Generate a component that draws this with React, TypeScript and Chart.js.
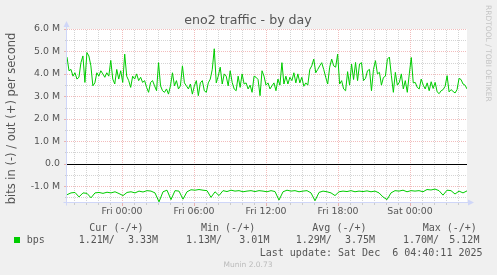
import React, { useEffect, useRef } from 'react';
import { Chart, registerables } from 'chart.js';

Chart.register(...registerables);

// bits per second, out (+), in millions
const outValues = [
  4.75, 4.14, 4.2, 3.9, 4.05, 3.77, 3.85, 4.5, 4.8, 3.62, 4.95, 4.8, 4.36, 3.47, 3.6, 4.05, 3.9, 4.14, 4.0, 3.85,
  4.05, 3.9, 4.6, 3.77, 3.55, 4.2, 3.77, 4.14, 3.62, 4.88, 3.9, 3.7, 3.4, 3.9, 3.77, 4.0, 3.7, 3.85, 3.62, 3.7,
  3.4, 3.18, 3.62, 3.7, 3.47, 3.25, 4.5, 3.47, 3.25, 3.18, 3.33, 3.1, 3.47, 4.05, 3.47, 3.7, 3.33, 3.47, 4.36, 3.6,
  3.47, 3.33, 3.55, 3.1, 3.47, 3.7, 3.03, 3.6,
  3.7, 3.25, 3.18, 3.6, 3.77, 4.2, 5.12, 3.6, 3.9, 4.3, 3.55, 4.0, 3.9, 3.47, 4.14, 3.62, 3.33, 3.25, 3.9, 3.4,
  4.0, 3.55, 3.6, 3.33, 3.5, 3.18, 3.9, 3.85, 3.75, 3.03, 4.14, 3.9, 3.5, 3.6, 3.33, 3.47, 3.6, 3.25, 3.77, 3.5,
  4.5, 3.55, 3.9, 3.55, 3.85, 3.7, 4.05, 3.6, 4.0, 3.6, 3.85, 3.45, 3.6, 3.5, 4.2, 4.36, 4.66, 4.05, 4.2, 4.36,
  4.5, 4.2, 3.85, 3.55, 4.3, 4.66, 4.36,
  4.3, 4.88, 3.55, 3.7, 3.33, 3.25, 4.1, 3.5, 4.44, 3.75, 4.51, 3.7, 4.44, 4.5, 3.7, 3.8, 4.14, 4.2, 3.25, 4.2,
  4.59, 4.0, 4.07, 3.5, 3.84, 3.9, 4.66, 4.75, 3.92, 3.18, 4.07, 3.5, 3.62, 4.0, 3.33, 3.7, 3.18, 4.0, 4.73, 3.6,
  3.62, 3.4, 3.33, 3.77, 3.5, 3.33, 3.6, 3.25, 3.65, 3.35, 3.62, 3.2, 3.12, 3.25, 3.3, 3.45, 3.92, 3.2, 3.3, 3.22,
  3.15, 3.3, 3.8, 3.75, 3.55, 3.5, 3.33,
];

// bits per second, in (-), in millions
const inValues = [
  -1.38, -1.3, -1.28, -1.48, -1.3, -1.32, -1.52, -1.3, -1.28, -1.32, -1.27, -1.3, -1.25, -1.33, -1.42, -1.28, -1.25, -1.3, -1.22, -1.26,
  -1.2, -1.22, -1.3, -1.7, -1.25, -1.18, -1.6, -1.2, -1.22, -1.58, -1.25, -1.16, -1.18, -1.15, -1.18, -1.2, -1.5, -1.25, -1.42, -1.2,
  -1.24, -1.18, -1.22, -1.2, -1.25, -1.22, -1.2, -1.24, -1.2, -1.22, -1.25, -1.2, -1.24, -1.62, -1.25, -1.18, -1.22, -1.2, -1.25, -1.22,
  -1.2, -1.3, -1.65, -1.28, -1.22, -1.25, -1.3, -1.42, -1.25, -1.22, -1.24, -1.2, -1.25, -1.22, -1.24, -1.21, -1.25, -1.22, -1.3, -1.48,
  -1.6, -1.3, -1.2, -1.22, -1.18, -1.25, -1.2, -1.22, -1.2, -1.25, -1.15, -1.17, -1.13, -1.2, -1.4, -1.18, -1.2, -1.35, -1.22, -1.3,
  -1.21,
];

// time range, minutes relative to Fri 00:00
const startMinute = -275;
const endMinute = 1725;
const xTickValues = [0, 360, 720, 1080, 1440];
const xTickLabels = ['Fri 00:00', 'Fri 06:00', 'Fri 12:00', 'Fri 18:00', 'Sat 00:00'];
const yTickValues = [-1, 0, 1, 2, 3, 4, 5, 6];
const yTickLabels = ['-1.0 M', '0.0', '1.0 M', '2.0 M', '3.0 M', '4.0 M', '5.0 M', '6.0 M'];
const yMin = -1.75;
const yMax = 6;

const titleText = 'eno2 traffic - by day';
const yTitleText = 'bits in (-) / out (+) per second';
const seriesName = 'bps';
const legendHeaders = ['Cur (-/+)', 'Min (-/+)', 'Avg (-/+)', 'Max (-/+)'];
const legendIn = ['1.21M/', '1.13M/', '1.29M/', '1.70M/'];
const legendOut = ['3.33M', '3.01M', '3.75M', '5.12M'];
const lastUpdateText = 'Last update: Sat Dec  6 04:40:11 2025';
const muninText = 'Munin 2.0.73';
const rrdText = 'RRDTOOL / TOBI OETIKER';

const GREEN = '#00CC00';
const FONT = '"DejaVu Sans", sans-serif';
const MONO = '"DejaVu Sans Mono", monospace';
const TEXT = '#555555';
const MINOR = 'rgba(143,143,143,0.38)';
const MAJOR = 'rgba(222,79,79,0.38)';
const AXIS = '#CFD6F8';

function toPoints(vals: number[]) {
  const step = (endMinute - startMinute) / (vals.length - 1);
  return vals.map((v, i) => ({ x: startMinute + i * step, y: v }));
}

const muninPlugin = {
  id: 'muninDecor',
  beforeDraw(chart: any) {
    const { ctx, chartArea: a, width, height } = chart;
    ctx.save();
    ctx.fillStyle = '#F0F0F0';
    ctx.fillRect(0, 0, width, height);
    ctx.fillStyle = '#FFFFFF';
    ctx.fillRect(a.left, a.top, a.right - a.left, a.bottom - a.top);
    ctx.restore();
  },
  beforeDatasetsDraw(chart: any) {
    const { ctx, chartArea: a } = chart;
    const xs = chart.scales.x;
    const ys = chart.scales.y;
    ctx.save();
    ctx.lineWidth = 1;
    // vertical grid
    for (let m = Math.ceil(startMinute / 60) * 60; m <= endMinute; m += 60) {
      const px = Math.round(xs.getPixelForValue(m)) + 0.5;
      const major = Math.abs(m % 360) === 0;
      ctx.strokeStyle = major ? MAJOR : MINOR;
      ctx.setLineDash([1, 1]);
      ctx.beginPath();
      ctx.moveTo(px, a.bottom);
      ctx.lineTo(px, a.top);
      ctx.stroke();
      ctx.setLineDash([]);
      ctx.beginPath();
      ctx.moveTo(px, a.bottom);
      ctx.lineTo(px, a.bottom + (major ? 3 : 2));
      ctx.stroke();
    }
    // horizontal grid
    const hv: { v: number; major: boolean }[] = [];
    yTickValues.forEach((v) => {
      hv.push({ v, major: true });
      hv.push({ v: v - 0.5, major: false });
    });
    hv.forEach(({ v, major }) => {
      if (v < yMin || v > yMax) return;
      const py = Math.round(ys.getPixelForValue(v)) + 0.5;
      ctx.strokeStyle = major ? MAJOR : MINOR;
      ctx.setLineDash([1, 1]);
      ctx.beginPath();
      ctx.moveTo(a.left, py);
      ctx.lineTo(a.right, py);
      ctx.stroke();
      ctx.setLineDash([]);
      ctx.beginPath();
      ctx.moveTo(a.left - (major ? 3 : 2), py);
      ctx.lineTo(a.left, py);
      ctx.stroke();
    });
    ctx.restore();
  },
  afterDatasetsDraw(chart: any) {
    const { ctx, chartArea: a } = chart;
    const ys = chart.scales.y;
    ctx.save();
    // zero line
    const y0 = Math.round(ys.getPixelForValue(0)) + 0.5;
    ctx.strokeStyle = '#000000';
    ctx.lineWidth = 1;
    ctx.beginPath();
    ctx.moveTo(a.left, y0);
    ctx.lineTo(a.right, y0);
    ctx.stroke();
    // axes
    const ax = Math.round(a.left) - 0.5;
    const ay = Math.round(a.bottom) - 0.5;
    ctx.strokeStyle = AXIS;
    ctx.fillStyle = AXIS;
    ctx.beginPath();
    ctx.moveTo(ax, ay + 3);
    ctx.lineTo(ax, a.top - 4);
    ctx.moveTo(ax - 3, ay);
    ctx.lineTo(a.right + 3, ay);
    ctx.stroke();
    ctx.beginPath();
    ctx.moveTo(ax, a.top - 8);
    ctx.lineTo(ax - 3, a.top - 2);
    ctx.lineTo(ax + 3, a.top - 2);
    ctx.closePath();
    ctx.fill();
    ctx.beginPath();
    ctx.moveTo(a.right + 7, ay);
    ctx.lineTo(a.right + 1, ay - 3);
    ctx.lineTo(a.right + 1, ay + 3);
    ctx.closePath();
    ctx.fill();
    ctx.restore();
  },
  afterDraw(chart: any) {
    const { ctx } = chart;
    ctx.save();
    ctx.fillStyle = TEXT;
    // title
    ctx.font = `12.6px ${FONT}`;
    ctx.textAlign = 'center';
    ctx.textBaseline = 'alphabetic';
    ctx.fillText(titleText, 248, 24);
    // y title
    ctx.save();
    ctx.translate(15, 118.5);
    ctx.rotate(-Math.PI / 2);
    ctx.font = `11.5px ${FONT}`;
    ctx.textAlign = 'center';
    ctx.fillText(yTitleText, 0, 0);
    ctx.restore();
    // legend
    ctx.font = `10px ${MONO}`;
    ctx.textAlign = 'left';
    const headerX = [89.3, 201, 312.3, 422.7];
    const inX = [78.7, 186, 295.7, 403];
    const outX = [128, 239.3, 345, 449.3];
    legendHeaders.forEach((h, i) => ctx.fillText(h, headerX[i], 230.5));
    ctx.fillText(seriesName, 26.7, 242.5);
    legendIn.forEach((t, i) => ctx.fillText(t, inX[i], 242.5));
    legendOut.forEach((t, i) => ctx.fillText(t, outX[i], 242.5));
    ctx.textAlign = 'right';
    ctx.fillText(lastUpdateText, 482.5, 255.5);
    ctx.fillStyle = GREEN;
    ctx.fillRect(14, 237, 6, 6);
    // munin version
    ctx.fillStyle = '#BBBBBB';
    ctx.font = `7.5px ${FONT}`;
    ctx.textAlign = 'center';
    ctx.fillText(muninText, 248, 267);
    // rrdtool credit
    ctx.save();
    ctx.translate(485.5, 5);
    ctx.rotate(Math.PI / 2);
    ctx.textAlign = 'left';
    ctx.fillStyle = '#C4C4C4';
    ctx.fillText(rrdText, 0, 0);
    ctx.restore();
    ctx.restore();
  },
};

export default function App() {
  const ref = useRef<HTMLCanvasElement | null>(null);
  useEffect(() => {
    document.body.style.margin = '0';
    const canvas = ref.current;
    if (!canvas) return;
    const chart = new Chart(canvas, {
      type: 'line',
      data: {
        datasets: [
          {
            label: 'out',
            data: toPoints(outValues),
            borderColor: GREEN,
            borderWidth: 1,
            pointRadius: 0,
            tension: 0,
            fill: false,
          },
          {
            label: 'in',
            data: toPoints(inValues),
            borderColor: GREEN,
            borderWidth: 1,
            pointRadius: 0,
            tension: 0,
            fill: false,
          },
        ],
      },
      options: {
        animation: false,
        responsive: false,
        devicePixelRatio: 1,
        events: [],
        layout: { padding: { left: 0, right: 30, top: 29, bottom: 52 } },
        plugins: { legend: { display: false }, tooltip: { enabled: false }, title: { display: false } },
        scales: {
          x: {
            type: 'linear',
            min: startMinute,
            max: endMinute,
            grid: { display: false, drawTicks: false },
            border: { display: false },
            afterBuildTicks: (s: any) => {
              s.ticks = xTickValues.map((v) => ({ value: v }));
            },
            afterFit: (s: any) => {
              s.height = 20;
            },
            ticks: {
              autoSkip: false,
              maxRotation: 0,
              padding: 3,
              color: TEXT,
              font: { family: FONT, size: 9.4 },
              callback: (_v: any, i: number) => xTickLabels[i],
            },
          },
          y: {
            type: 'linear',
            min: yMin,
            max: yMax,
            grid: { display: false, drawTicks: false },
            border: { display: false },
            afterBuildTicks: (s: any) => {
              s.ticks = yTickValues.map((v) => ({ value: v }));
            },
            afterFit: (s: any) => {
              s.width = 67;
            },
            ticks: {
              padding: 7,
              color: TEXT,
              font: { family: FONT, size: 9.4 },
              callback: (_v: any, i: number) => yTickLabels[i],
            },
          },
        },
      },
      plugins: [muninPlugin],
    } as any);
    return () => chart.destroy();
  }, []);
  return (
    <div style={{ position: 'absolute', left: 0, top: 0, width: 497, height: 275, background: '#F0F0F0' }}>
      <canvas ref={ref} width={497} height={275} style={{ display: 'block', width: 497, height: 275 }} />
    </div>
  );
}
